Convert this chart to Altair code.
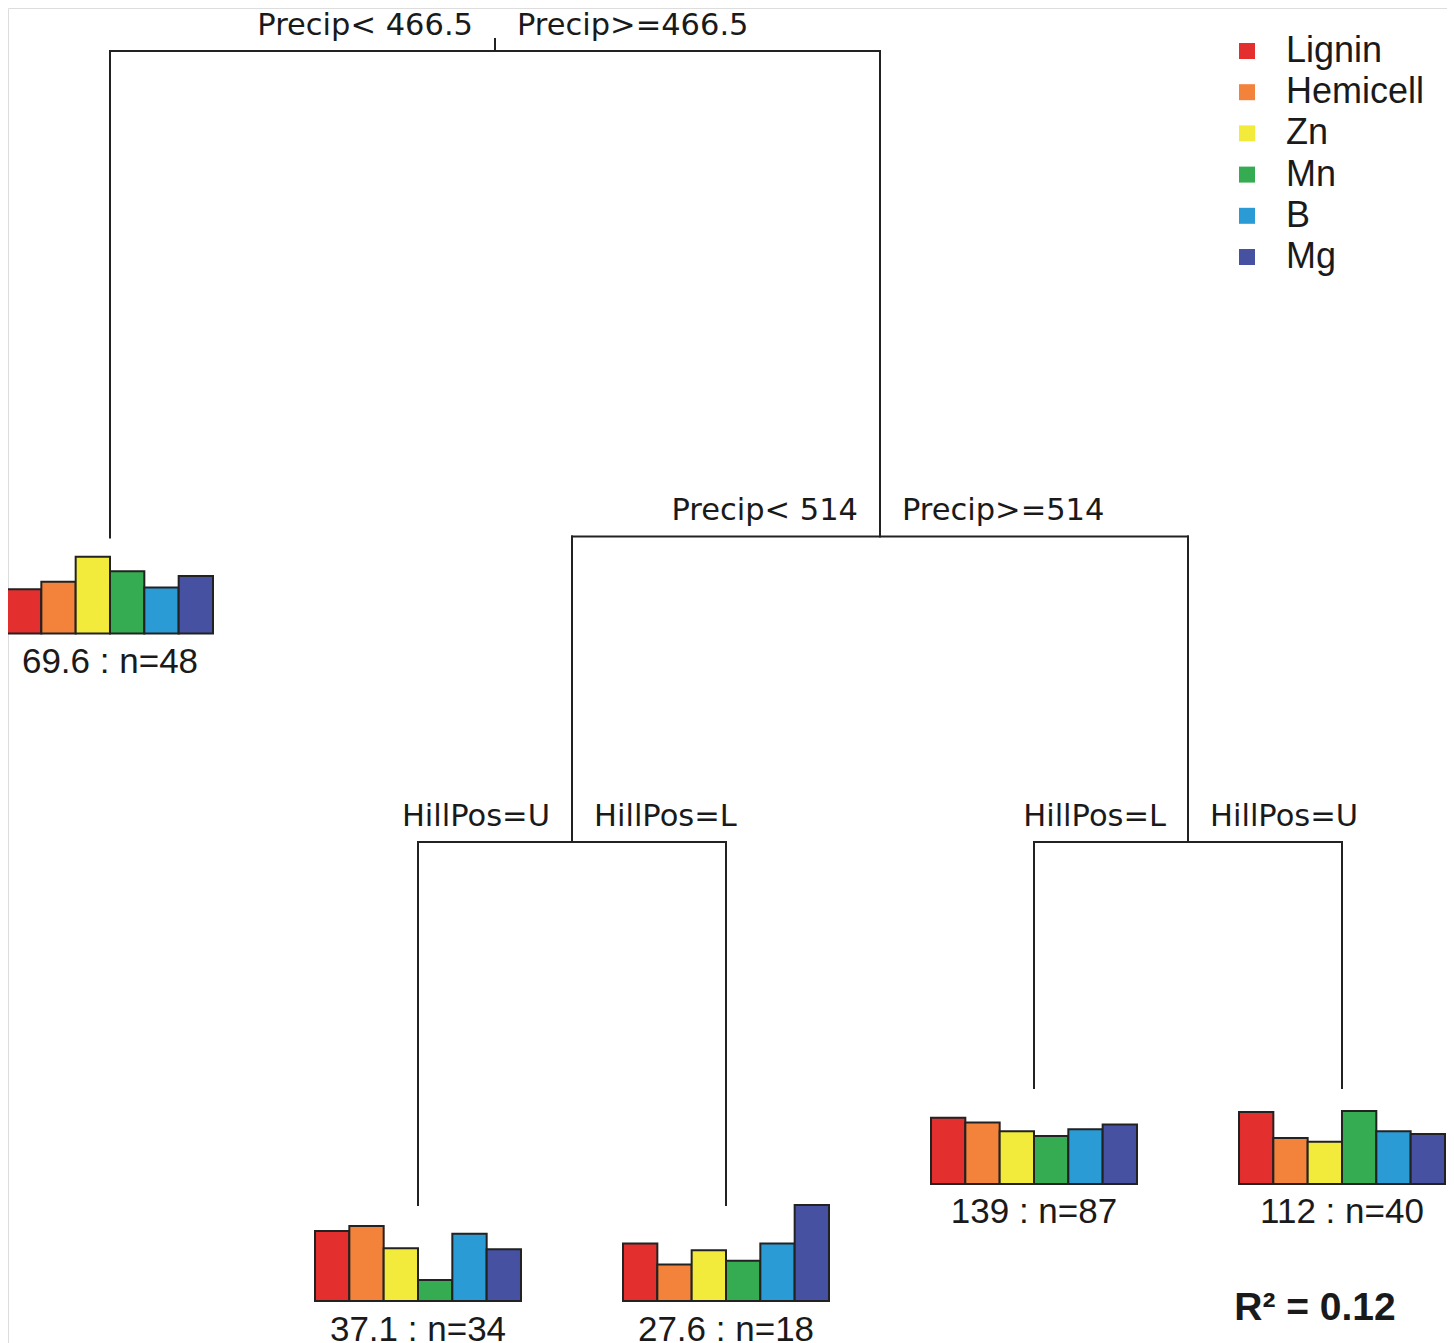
import altair as alt
import pandas as pd

# ---------------- data ----------------
variables = ["Lignin", "Hemicell", "Zn", "Mn", "B", "Mg"]
colors = ["#E3302F", "#F3823A", "#F2EB3B", "#36AC52", "#2A9BD5", "#4651A2"]

# tree structure (rpart numbering)
node_ids = [1, 2, 3, 6, 7, 12, 13, 14, 15]
node_parent = [0, 1, 1, 3, 3, 6, 6, 7, 7]
# vertical position of each node (relative deviance scale, root = 1)
node_height = [1.0, 0.5784, 0.5793, 0.3146, 0.3146, 0.0, 0.0, 0.1014, 0.1014]

# splits: node -> (left label, right label)
split_nodes = [1, 3, 6, 7]
split_left = ["Precip< 466.5", "Precip< 514", "HillPos=U", "HillPos=L"]
split_right = ["Precip>=466.5", "Precip>=514", "HillPos=L", "HillPos=U"]

# leaves, in plotting order
leaf_nodes = [2, 12, 13, 14, 15]
leaf_mean = ["69.6", "37.1", "27.6", "139", "112"]
leaf_n = [48, 34, 18, 87, 40]

# relative mean of each response in each leaf (bar heights)
bars_leaf2 = [0.46, 0.54, 0.80, 0.65, 0.48, 0.60]
bars_leaf12 = [0.73, 0.78, 0.55, 0.22, 0.70, 0.54]
bars_leaf13 = [0.60, 0.38, 0.53, 0.42, 0.60, 1.00]
bars_leaf14 = [0.69, 0.64, 0.55, 0.50, 0.57, 0.62]
bars_leaf15 = [0.75, 0.48, 0.44, 0.76, 0.55, 0.52]
leaf_bars = [bars_leaf2, bars_leaf12, bars_leaf13, bars_leaf14, bars_leaf15]

r2_label = "R\u00b2 = 0.12"

# ---------------- layout (tree geometry) ----------------
children = {}
for nid, par in zip(node_ids, node_parent):
    children.setdefault(par, []).append(nid)
height = dict(zip(node_ids, node_height))
xpos = {leaf: i + 1 for i, leaf in enumerate(leaf_nodes)}


def get_x(n):
    if n not in xpos:
        kids = children[n]
        xpos[n] = (get_x(kids[0]) + get_x(kids[-1])) / 2.0
    return xpos[n]


for n in node_ids:
    get_x(n)

STUB = 0.0104     # root stub
BOX = 0.0832      # height of the bar box under each leaf
BARW = 0.6688     # width of the bar group (leaf units)

seg_rows = []
root = node_ids[0]
seg_rows.append(dict(x=xpos[root], y=height[root] + STUB, x2=xpos[root], y2=height[root]))
for nid, par in zip(node_ids, node_parent):
    if par:
        seg_rows.append(dict(x=xpos[nid], y=height[par], x2=xpos[nid], y2=height[nid]))
    if nid in children:
        kids = children[nid]
        seg_rows.append(dict(x=xpos[kids[0]], y=height[nid], x2=xpos[kids[-1]], y2=height[nid]))
segs = pd.DataFrame(seg_rows)

splits = pd.DataFrame(dict(
    x=[xpos[n] for n in split_nodes],
    y=[height[n] for n in split_nodes],
    left=split_left,
    right=split_right,
))

leaves = pd.DataFrame(dict(
    x=[xpos[n] for n in leaf_nodes],
    y=[height[n] for n in leaf_nodes],
    label=[f"{m} : n={k}" for m, k in zip(leaf_mean, leaf_n)],
))

bar_rows = []
bw = BARW / len(variables)
for leaf, vals in zip(leaf_nodes, leaf_bars):
    x0 = xpos[leaf] - BARW / 2
    base = height[leaf] - BOX
    for i, (var, v) in enumerate(zip(variables, vals)):
        bar_rows.append(dict(variable=var, x=x0 + i * bw, x2=x0 + (i + 1) * bw,
                             y=base, y2=base + v * BOX))
bars = pd.DataFrame(bar_rows)

# ---------------- scales ----------------
xscale = alt.Scale(domain=[1 - 102 / 308, 5 + 105 / 308], nice=False, zero=False)
yscale = alt.Scale(domain=[(1205 - 1343) / 1154, (1205 - 8) / 1154], nice=False, zero=False)

TEXT = "#1a1a1a"

lines = alt.Chart(segs).mark_rule(color="#222222", strokeWidth=2, strokeCap="square").encode(
    x=alt.X("x:Q", scale=xscale, axis=None),
    y=alt.Y("y:Q", scale=yscale, axis=None),
    x2="x2:Q",
    y2="y2:Q",
)

left_lab = alt.Chart(splits).mark_text(
    align="right", baseline="alphabetic", dx=-22, dy=-16,
    font="DejaVu Sans", fontSize=30.5, color=TEXT,
).encode(x=alt.X("x:Q", scale=xscale, axis=None), y=alt.Y("y:Q", scale=yscale, axis=None), text="left:N")

right_lab = alt.Chart(splits).mark_text(
    align="left", baseline="alphabetic", dx=22, dy=-16,
    font="DejaVu Sans", fontSize=30.5, color=TEXT,
).encode(x=alt.X("x:Q", scale=xscale, axis=None), y=alt.Y("y:Q", scale=yscale, axis=None), text="right:N")

bar_layer = alt.Chart(bars).mark_rect(stroke="#222222", strokeWidth=2).encode(
    x=alt.X("x:Q", scale=xscale, axis=None),
    x2="x2:Q",
    y=alt.Y("y:Q", scale=yscale, axis=None),
    y2="y2:Q",
    color=alt.Color(
        "variable:N",
        scale=alt.Scale(domain=variables, range=colors),
        sort=variables,
        legend=alt.Legend(
            title=None, orient="none", legendX=1221, legendY=25,
            symbolType="square", symbolSize=256, symbolStrokeWidth=0,
            labelFont="Liberation Sans", labelFontSize=36, labelColor=TEXT,
            labelOffset=21, rowPadding=5.2, labelLimit=0, padding=0,
        ),
    ),
)

leaf_lab = alt.Chart(leaves).mark_text(
    align="center", baseline="alphabetic", dy=135.5,
    font="Liberation Sans", fontSize=35, color=TEXT,
).encode(x=alt.X("x:Q", scale=xscale, axis=None), y=alt.Y("y:Q", scale=yscale, axis=None), text="label:N")

r2 = alt.Chart(pd.DataFrame(dict(t=[r2_label]))).mark_text(
    align="center", baseline="alphabetic",
    font="Liberation Sans", fontSize=39, fontWeight="bold", color=TEXT,
).encode(x=alt.value(1307), y=alt.value(1312), text="t:N")

chart = alt.layer(lines, left_lab, right_lab, bar_layer, leaf_lab, r2).properties(
    width=1439, height=1335, padding=0,
    autosize=alt.AutoSizeParams(type="none"),
).configure_view(stroke="transparent", strokeWidth=0, fill="white").configure(background="white")

chart.save("out.html", embed_options={"renderer": "svg", "actions": False})
